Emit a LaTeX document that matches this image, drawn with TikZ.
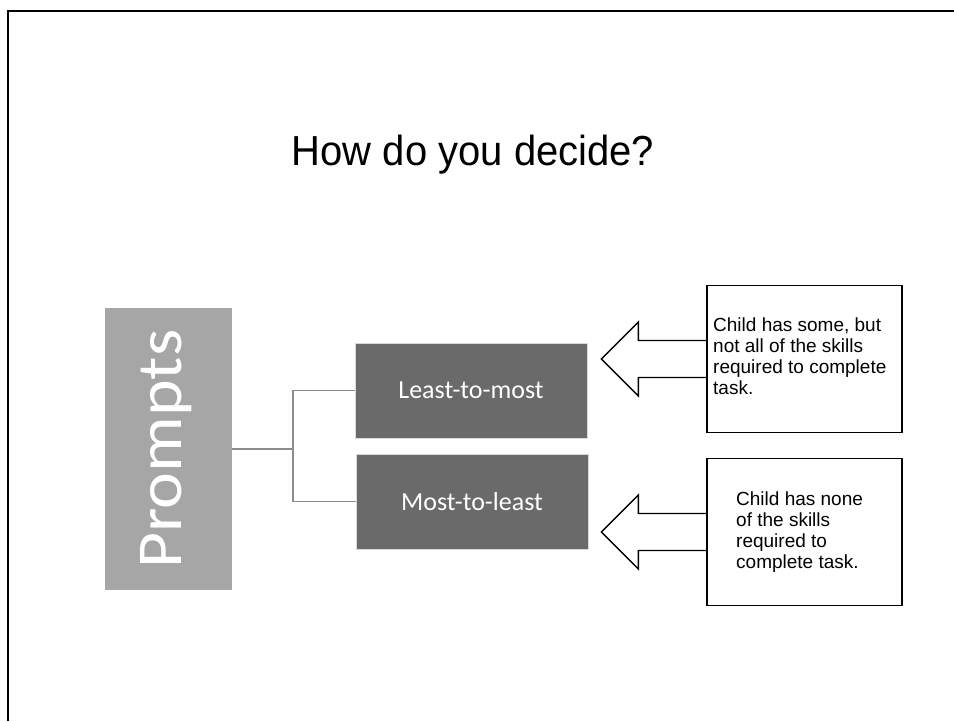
\documentclass[tikz,border=0pt]{standalone}
\usepackage{fontspec}
\setmainfont{Liberation Sans}
\newfontfamily\calibrifont{Carlito}
\usetikzlibrary{
    positioning % For relative placement of the notes
}

% Slide greys
\definecolor{promptgray}{HTML}{A6A6A6}
\definecolor{branchgray}{HTML}{6A6A6A}
\definecolor{linkgray}{HTML}{8C8C8C}

\begin{document}
\begin{tikzpicture}[
    x=1pt, y=-1pt, % work in pixels of the slide, y pointing down
    % Tall light grey box on the left
    rootbox/.style={fill=promptgray, minimum width=127pt, minimum height=282pt, inner sep=0pt},
    roottext/.style={text=white, rotate=90, font=\calibrifont\fontsize{64}{70}\selectfont},
    % Dark grey branch boxes
    branchbox/.style={fill=branchgray, draw=gray!30, line width=0.6pt,
        minimum width=232pt, minimum height=95pt, inner sep=0pt,
        text=white, font=\calibrifont\fontsize{26}{30}\selectfont},
    % Thin tree connector
    link/.style={draw=linkgray, line width=1.5pt},
    % Note boxes on the right and their text
    notebox/.style={draw=black, fill=white, line width=1.3pt, minimum width=195pt, minimum height=147pt, inner sep=0pt},
    notetext/.style={align=left, inner sep=0pt, anchor=north west, font=\fontsize{19}{21}\selectfont},
    % Hollow block arrow
    blockarrow/.style={draw=black, line width=1.3pt, line join=miter}
]

    \useasboundingbox (0,0) rectangle (954,721);

    % Slide frame (only top and left edges show)
    \draw[line width=2.5pt] (8,721) -- (8,11) -- (954,11);

    % Title
    \node[anchor=base, font=\fontsize{40}{48}\selectfont] (title) at (473,165) {\scalebox{1}[1.05]{How do you decide?}};

    % Root of the tree
    \node[rootbox] (prompts) at (168.5,449) {};
    \node[roottext] (promptslabel) at ([xshift=-2pt]prompts.center) {\scalebox{1.09}[1]{Prompts}};

    % The two branches
    \node[branchbox] (ltm) at (471,390.5) {Least-to-most};
    \node[branchbox] (mtl) at (472,501.5) {Most-to-least};

    % Tree connectors
    \coordinate (fork) at (293,449);
    \draw[link] (prompts.east) -- (fork);
    \draw[link] (fork) |- (ltm.west);
    \draw[link] (fork) |- (mtl.west);

    % Notes
    \node[notebox] (note1) at (804.5,359) {};
    \node[notetext] (note1text) at (713,318) {Child has some, but\\not all of the skills\\required to complete\\task.};

    \node[notebox] (note2) at (804.5,532) {};
    \node[notetext] (note2text) at (736,492) {Child has none\\of the skills\\required to\\complete task.};

    % Block arrows pointing from the notes to the branches
    \draw[blockarrow] (note1.west) ++(0,-18.5) -- ++(-68,0) -- ++(0,-18.5) -- ++(-37,37)
        -- ++(37,37) -- ++(0,-18.5) -- ++(68,0);
    \draw[blockarrow] (note2.west) ++(0,-18.5) -- ++(-68,0) -- ++(0,-18.5) -- ++(-37,37)
        -- ++(37,37) -- ++(0,-18.5) -- ++(68,0);

\end{tikzpicture}
\end{document}
